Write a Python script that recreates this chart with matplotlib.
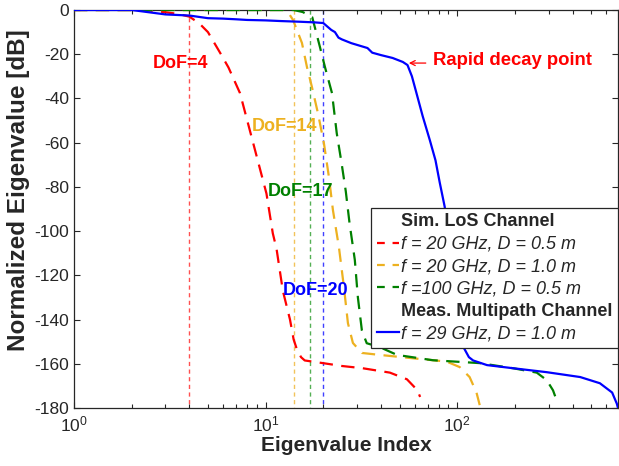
import matplotlib
matplotlib.use("Agg")
import matplotlib.pyplot as plt
from matplotlib.lines import Line2D
import numpy as np

plt.rcParams['font.family'] = ['Liberation Sans', 'DejaVu Sans']
plt.rcParams['mathtext.fontset'] = 'custom'
plt.rcParams['mathtext.rm'] = 'Liberation Sans'
plt.rcParams['mathtext.it'] = 'Liberation Sans:italic'
plt.rcParams['axes.unicode_minus'] = False

# ---------------- data ----------------
red_idx = [1, 2, 2.5, 3, 3.5, 4, 4.5, 5, 5.8, 6.4, 7.35, 8.6, 10.1, 10.9, 11.4,
           12.3, 13.4, 14.0, 14.5, 15.3, 16, 19.9, 25, 32, 44.5, 54.6, 58.5, 62, 64]
red_db = [0, 0, -0.3, -1, -1.8, -3, -6, -10, -19.5, -26, -37.6, -60, -83, -101, -108,
          -127, -140, -149, -153, -157, -158.5, -159.7, -161, -162, -164, -167, -169.7, -172, -175]

yel_idx = [1, 10, 12.3, 13.2, 13.9, 15.47, 16.43, 17.44, 18.74, 20.14, 21.39, 22.45,
           24.12, 25.62, 26.88, 28.54, 31.8, 39.5, 58.5, 88, 103, 116, 126, 131]
yel_db = [0, 0, 0, -1.5, -4.5, -14.9, -25.8, -34.8, -46.6, -60.2, -75.5, -90.5,
          -107.2, -125.3, -141.6, -150.6, -155.1, -156, -157.5, -159, -161.5, -166, -173, -178.7]

grn_idx = [1, 14, 15.6, 17.5, 19.2, 20.4, 22.2, 23.5, 24.9, 26.2, 27.4, 29.2, 30.3,
           31.8, 33.7, 39.5, 48.5, 74.7, 131, 195, 260, 293, 316, 330]
grn_db = [0, 0, -0.9, -3.2, -16.7, -25.8, -37.6, -55.7, -69.2, -82, -96.3, -113, -130,
          -145, -150.7, -152.5, -156, -158.4, -159.7, -162, -164, -167.4, -172, -176.5]

blu_idx = [1, 2, 3, 4, 5, 6, 7, 8, 10, 12, 15, 18, 20, 21, 22, 23, 24, 25, 28, 34,
           36, 40, 46, 52, 55, 58, 61, 66, 72, 77, 81, 86, 95, 104, 107, 115, 121,
           143, 195, 293, 438, 555, 643, 680, 690]
blu_db = [0, 0, -2.0, -2.5, -3.7, -3.9, -4.2, -4.5, -4.7, -5.0, -5.3, -5.6, -5.9,
          -7.5, -9, -10, -12.5, -13.3, -15, -17.2, -19.3, -20.4, -21.7, -23.5, -24.9,
          -30, -37, -48, -59, -68, -78, -89, -120, -146, -152, -157, -158.5, -160.6,
          -162, -163.8, -166, -168.8, -173, -178, -180]

dof_values = [4, 14, 17, 20]
dof_labels = ['DoF=4', 'DoF=14', 'DoF=17', 'DoF=20']
dof_label_pos = [(2.58, -24), (8.5, -52.5), (10.27, -82), (12.3, -127)]

legend_labels = ['Sim. LoS Channel',
                 'f = 20 GHz, D = 0.5 m',
                 'f = 20 GHz, D = 1.0 m',
                 'f =100 GHz, D = 0.5 m',
                 'Meas. Multipath Channel',
                 'f = 29 GHz, D = 1.0 m']

# ---------------- styling ----------------
RED = '#FF0000'
YEL = '#EDB120'
GRN = '#008000'
BLU = '#0000FF'
AXC = '#262626'

fig = plt.figure(figsize=(6.19, 4.66), dpi=100)
ax = fig.add_axes([74/619, 1-408/466, 544/619, 398/466])

dash = (0, (6, 3.8))
lw = 1.6

# vertical DoF markers
for v, c in zip(dof_values, ['#FF5050', '#F2C35A', '#55B055', '#4040FF']):
    ax.plot([v, v], [0, -180], color=c, lw=1.0, ls=(0, (3, 2.5)), zorder=1)

ax.plot(red_idx, red_db, color=RED, lw=lw, ls=dash, zorder=3)
ax.plot(yel_idx, yel_db, color=YEL, lw=lw, ls=dash, zorder=3)
ax.plot(grn_idx, grn_db, color=GRN, lw=lw, ls=dash, zorder=3)
ax.plot(blu_idx, blu_db, color=BLU, lw=1.6, ls='-', zorder=4)

for (x, y), t, c in zip(dof_label_pos, dof_labels, [RED, YEL, GRN, BLU]):
    ax.text(x, y, t, color=c, fontsize=13, fontweight='bold', ha='left', va='center', zorder=5)

ax.annotate('', xy=(55.9, -24), xytext=(68.5, -24),
            arrowprops=dict(arrowstyle='->', color=RED, lw=0.9, shrinkA=0, shrinkB=0,
                            mutation_scale=9))
ax.text(75, -23, 'Rapid decay point', color=RED, fontsize=13.3, fontweight='bold',
        ha='left', va='center')

ax.set_xscale('log')
ax.set_xlim(1, 690)
ax.set_ylim(-180, 0)
ax.set_yticks(np.arange(-180, 1, 20))

for s in ax.spines.values():
    s.set_color(AXC)
    s.set_linewidth(0.9)
ax.tick_params(which='both', direction='in', top=True, right=True, colors=AXC,
               labelsize=12.5, width=0.8)
ax.tick_params(which='major', length=4)
ax.tick_params(which='minor', length=3)
ax.tick_params(axis='x', pad=5)

ax.set_xlabel('Eigenvalue Index', fontsize=15, fontweight='bold', color=AXC, labelpad=1)
ax.set_ylabel('Normalized Eigenvalue [dB]', fontsize=17.5, fontweight='bold', color=AXC)
ax.yaxis.set_label_coords(-0.08, 0.548)

# legend
blank = Line2D([], [], color='none')
hdash = (0, (3.5, 3.5))
handles = [blank,
           Line2D([], [], color=RED, lw=lw, ls=hdash),
           Line2D([], [], color=YEL, lw=lw, ls=hdash),
           Line2D([], [], color=GRN, lw=lw, ls=hdash),
           blank,
           Line2D([], [], color=BLU, lw=lw, ls='-')]
leg = ax.legend(handles, legend_labels, loc='upper right', bbox_to_anchor=(1.0, 0.5025),
                borderaxespad=0, fontsize=13, handlelength=1.25, handletextpad=0.1,
                labelspacing=0.3, borderpad=0.3, frameon=True, fancybox=False,
                framealpha=1)
leg.get_frame().set_edgecolor(AXC)
leg.get_frame().set_linewidth(0.9)
for i, t in enumerate(leg.get_texts()):
    t.set_color(AXC)
    if i in (0, 4):
        t.set_fontweight('bold')
    else:
        t.set_fontstyle('italic')

fig.savefig('out.png', dpi=100)
